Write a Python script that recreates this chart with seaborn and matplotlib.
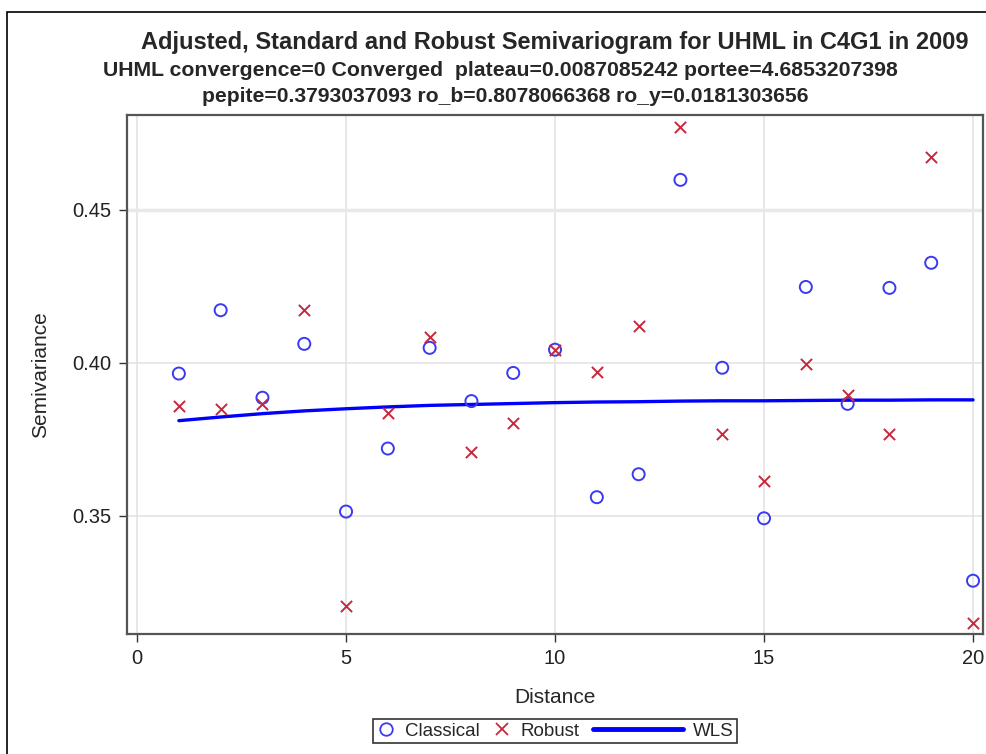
import numpy as np
import pandas as pd
import matplotlib
matplotlib.use("Agg")
import matplotlib.pyplot as plt
import seaborn as sns
from matplotlib.lines import Line2D
from matplotlib.patches import Rectangle
from matplotlib.legend_handler import HandlerLine2D

# values
distance = [1, 2, 3, 4, 5, 6, 7, 8, 9, 10, 11, 12, 13, 14, 15, 16, 17, 18, 19, 20]
classical = [0.3965, 0.4172, 0.3886, 0.4062, 0.3514, 0.3720, 0.4049, 0.3875, 0.3967, 0.4043,
             0.3561, 0.3636, 0.4598, 0.3984, 0.3492, 0.4248, 0.3866, 0.4245, 0.4327, 0.3288]
robust = [0.3858, 0.3850, 0.3864, 0.4172, 0.3206, 0.3837, 0.4085, 0.3708, 0.3802, 0.4043,
          0.3969, 0.4122, 0.4772, 0.3768, 0.3614, 0.3997, 0.3896, 0.3766, 0.4674, 0.3149]
wls = [0.3811, 0.3823, 0.3834, 0.3843, 0.3850, 0.3856, 0.3861, 0.3864, 0.3867, 0.3870,
       0.3872, 0.3873, 0.3875, 0.3876, 0.3876, 0.3877, 0.3878, 0.3878, 0.3879, 0.3879]

title1 = "Adjusted, Standard and Robust Semivariogram for UHML in C4G1 in 2009"
title2 = "UHML convergence=0 Converged  plateau=0.0087085242 portee=4.6853207398"
title3 = "pepite=0.3793037093 ro_b=0.8078066368 ro_y=0.0181303656"

sns.set_style("white")
plt.rcParams['font.family'] = ['Liberation Sans', 'DejaVu Sans']

blue_pt = "#3a3af0"
red_pt = "#c8283c"


class WideLine(HandlerLine2D):
    """legend handle for the fit line, longer than the marker ones"""
    def legend_artist(self, legend, orig_handle, fontsize, handlebox):
        handlebox.width = handlebox.width * 4.8
        return super().legend_artist(legend, orig_handle, fontsize, handlebox)


fig = plt.figure(figsize=(9.87, 7.54), dpi=100)
ax = fig.add_axes([0.1287, 0.1592, 0.8673, 0.6883])

for v in [0, 5, 10, 15, 20]:
    ax.axvline(v, color="#e4e4e4", lw=1.2, zorder=0)
for v in [0.35, 0.40]:
    ax.axhline(v, color="#e4e4e4", lw=1.2, zorder=0)
ax.axhline(0.45, color="#e8e8e8", lw=2.5, zorder=0)

sns.lineplot(x=distance, y=wls, color="#0000ff", lw=2.4, ax=ax, zorder=2)
sns.scatterplot(x=distance, y=classical, marker="o", s=75, facecolors="none",
                edgecolor=blue_pt, linewidth=1.4, ax=ax, zorder=3)
sns.scatterplot(x=distance, y=robust, marker="x", s=65, color=red_pt,
                linewidth=1.4, ax=ax, zorder=3)

ax.set_xlim(-0.24, 20.24)
ax.set_ylim(0.3114, 0.481)
ax.set_xticks([0, 5, 10, 15, 20])
ax.set_yticks([0.35, 0.40, 0.45])
ax.set_yticklabels(["0.35", "0.40", "0.45"])
ax.tick_params(axis="both", direction="out", length=6, width=1, color="#333333",
               labelsize=14.5, labelcolor="#222222", bottom=True, left=True, pad=5)
for sp in ax.spines.values():
    sp.set_color("#555555")
    sp.set_linewidth(1.6)

ax.set_xlabel("Distance", fontsize=15, labelpad=14)
ax.set_ylabel("Semivariance", fontsize=15, labelpad=16)

fig.text(555 / 987, 1 - 42 / 754, title1, ha="center", va="center", fontsize=17, fontweight="bold")
fig.text(500 / 987, 1 - 70 / 754, title2, ha="center", va="center", fontsize=15.3, fontweight="bold")
fig.text(505 / 987, 1 - 96 / 754, title3, ha="center", va="center", fontsize=15.2, fontweight="bold")

h_classical = Line2D([], [], marker="o", ls="none", markerfacecolor="none", markeredgecolor=blue_pt,
                     markersize=9, markeredgewidth=1.3)
h_robust = Line2D([], [], marker="x", ls="none", color=red_pt, markersize=9, markeredgewidth=1.3)
h_wls = Line2D([], [], color="#0000ff", lw=3.5)
leg = fig.legend([h_classical, h_robust, h_wls], ["Classical", "Robust", "WLS"], loc="center",
                 bbox_to_anchor=(555 / 987, 1 - 731 / 754), ncol=3, fontsize=13.5,
                 frameon=True, fancybox=False, handlelength=1.0, handletextpad=0.5,
                 columnspacing=0.7, borderpad=0.2, handler_map={h_wls: WideLine()})
leg.get_frame().set_edgecolor("black")
leg.get_frame().set_linewidth(1.2)

fig.add_artist(Rectangle((7 / 987, -0.1), 1.2, (754 - 12) / 754 + 0.1, transform=fig.transFigure,
                         fill=False, edgecolor="black", lw=1.2, clip_on=False))

fig.savefig("out.png", dpi=100)
